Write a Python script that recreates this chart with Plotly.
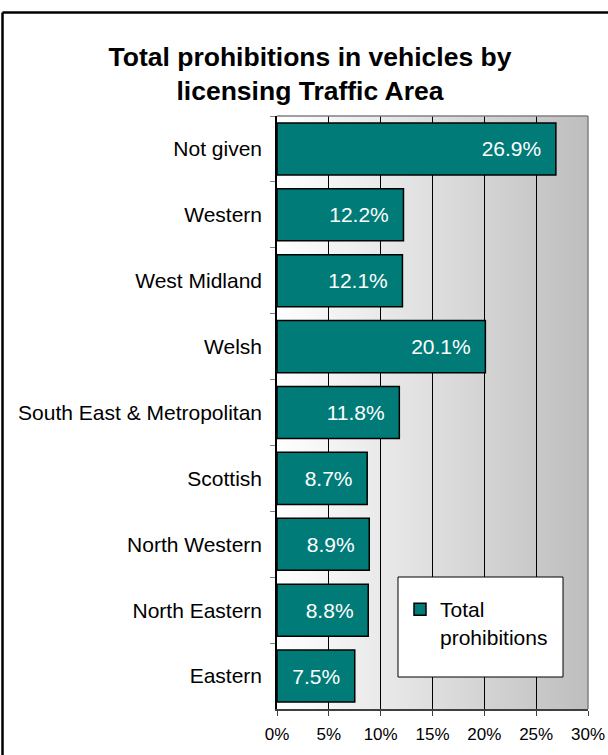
import base64, struct, zlib
import plotly.graph_objects as go

# ---- data ----
areas = ["Not given", "Western", "West Midland", "Welsh", "South East & Metropolitan",
         "Scottish", "North Western", "North Eastern", "Eastern"]
share_pct = [26.9, 12.2, 12.1, 20.1, 11.8, 8.7, 8.9, 8.8, 7.5]
series_name = "Total prohibitions"
x_ticks = [0, 5, 10, 15, 20, 25, 30]
x_tick_labels = ["0%", "5%", "10%", "15%", "20%", "25%", "30%"]
title_text = "<b>Total prohibitions in vehicles by<br>licensing Traffic Area</b>"

# ---- layout geometry (pixels) ----
W, H = 608, 755
L, R, T, B = 277, 20, 116, 46
PW, PH = W - L - R, H - T - B

def px(x):
    return (x - L) / PW

def py(y):
    return (H - B - y) / PH

FONT = "Liberation Sans, Arial, sans-serif"

# horizontal grey gradient png for plot background
def gradient_png(n=256, c0=255, c1=190):
    row = b"\x00" + b"".join(bytes([int(round(c0 + (c1 - c0) * i / (n - 1)))] * 3) for i in range(n))
    def chunk(tag, data):
        return struct.pack(">I", len(data)) + tag + data + struct.pack(">I", zlib.crc32(tag + data) & 0xffffffff)
    png = b"\x89PNG\r\n\x1a\n"
    png += chunk(b"IHDR", struct.pack(">IIBBBBB", n, 1, 8, 2, 0, 0, 0))
    png += chunk(b"IDAT", zlib.compress(row))
    png += chunk(b"IEND", b"")
    return "data:image/png;base64," + base64.b64encode(png).decode()

nb = "\u00a0\u00a0"
fig = go.Figure()
fig.add_trace(go.Bar(
    y=areas, x=share_pct, orientation="h", name=series_name.replace(" ", "<br>"),
    marker=dict(color="#007b78", line=dict(color="black", width=1.5)),
    text=[f"{v:.1f}%{nb}" for v in share_pct],
    textposition="inside", insidetextanchor="end",
    textfont=dict(color="white", size=21, family=FONT),
    cliponaxis=False,
))

fig.update_layout(
    width=W, height=H, autosize=False,
    margin=dict(l=L, r=R, t=T, b=B, pad=0, autoexpand=False),
    paper_bgcolor="white", plot_bgcolor="white",
    bargap=0.21,
    font=dict(family=FONT, color="black"),
    title=dict(text=title_text, x=310 / W, xanchor="center", y=1 - 66 / H, yanchor="middle",
               xref="container", yref="container",
               font=dict(size=26.5, family=FONT, color="black")),
    showlegend=True,
    legend=dict(x=px(400), y=py(589), xanchor="left", yanchor="top",
                bgcolor="rgba(0,0,0,0)", borderwidth=0, valign="top",
                font=dict(size=21, family=FONT, color="black")),
    xaxis=dict(range=[0, 30], tickvals=x_ticks, ticktext=x_tick_labels,
               showgrid=True, gridcolor="black", gridwidth=1, automargin=False,
               showline=True, linecolor="#404040", linewidth=1.5,
               ticks="outside", ticklen=5, tickcolor="#404040",
               tickfont=dict(size=17, family=FONT), ticklabelstandoff=4,
               zeroline=False, fixedrange=True),
    yaxis=dict(autorange="reversed", showline=True, linecolor="black", linewidth=1.5,
               ticks="outside", tickson="boundaries", ticklen=5, tickcolor="#808080",
               tickfont=dict(size=21, family=FONT), ticklabelstandoff=9, automargin=False,
               showgrid=False, fixedrange=True),
    images=[dict(source=gradient_png(), xref="x domain", yref="y domain",
                 x=0, y=1, sizex=1, sizey=1, xanchor="left", yanchor="top",
                 sizing="stretch", layer="below")],
    shapes=[
        dict(type="line", xref="x domain", yref="y domain", x0=0, x1=1, y0=1, y1=1,
             line=dict(color="#808080", width=1.5), layer="above"),
        dict(type="line", xref="x domain", yref="y domain", x0=1, x1=1, y0=0, y1=1,
             line=dict(color="#808080", width=1.5), layer="above"),
        dict(type="rect", xref="paper", yref="paper", x0=px(398), x1=px(563), y0=py(677), y1=py(577),
             fillcolor="white", line=dict(color="black", width=1), layer="above"),
        dict(type="line", xref="paper", yref="paper", x0=px(2.5), x1=px(610), y0=py(12.5), y1=py(12.5),
             line=dict(color="black", width=2.5)),
        dict(type="line", xref="paper", yref="paper", x0=px(2.5), x1=px(2.5), y0=py(12.5), y1=py(760),
             line=dict(color="black", width=2.5)),
    ],
)

fig.write_html("out.html", config={"displayModeBar": False},
               post_script="document.body.style.margin='0';document.body.style.overflow='hidden';")
